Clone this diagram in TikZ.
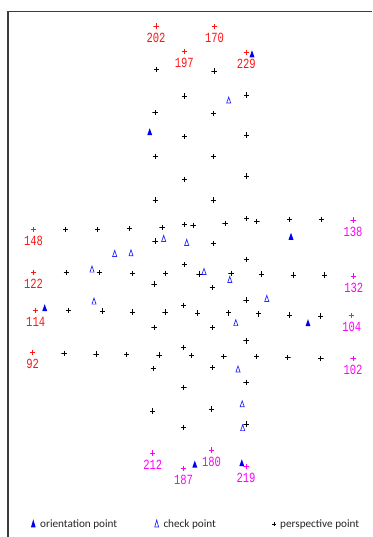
\documentclass[tikz,border=0pt]{standalone}
\usepackage{fontspec}
\setmainfont{Carlito}
\newfontfamily\lblmono{Liberation Mono}
\newcommand\nm[1]{\scalebox{0.75}[1]{#1}}
\definecolor{ptred}{RGB}{255,20,20}
\definecolor{ptmag}{RGB}{255,0,255}
\definecolor{oriblue}{RGB}{0,0,245}
\definecolor{chkblue}{RGB}{40,40,255}
\definecolor{framegray}{RGB}{60,60,60}
\tikzset{
  pp/.style={inner sep=0pt, minimum size=5.5pt,
    path picture={\draw[line width=0.75pt,#1]
      (path picture bounding box.north) -- (path picture bounding box.south)
      (path picture bounding box.west) -- (path picture bounding box.east);}},
  pp/.default=black,
  ori/.style={inner sep=0pt, minimum width=5pt, minimum height=7pt,
    path picture={\fill[oriblue] (path picture bounding box.south west) --
      (path picture bounding box.south east) -- (path picture bounding box.north) -- cycle;}},
  chk/.style={inner sep=0pt, minimum width=5pt, minimum height=7pt,
    path picture={\draw[chkblue,line width=0.7pt,line join=miter]
      ([shift={(0.45pt,0.4pt)}]path picture bounding box.south west) --
      ([shift={(-0.45pt,0.4pt)}]path picture bounding box.south east) --
      ([shift={(0pt,-0.6pt)}]path picture bounding box.north) -- cycle;}},
  lbl/.style={font=\lblmono\fontsize{14}{14}\selectfont, inner sep=0pt,
    text height=9.7pt, text depth=0pt, label distance=3.2pt},
  lr/.style={lbl, text=ptred},
  lm/.style={lbl, text=ptmag},
  legtext/.style={font=\fontsize{11.2}{12}\selectfont, text=black!85, inner sep=0pt, anchor=base west},
}
\begin{document}
\begin{tikzpicture}[x=1pt,y=-1pt]
\useasboundingbox (0,0) rectangle (372,537);
\draw[framegray, line width=1.3pt] (8,537) -- (8,11.5) -- (372,11.5);
% labelled red points
\node[pp=ptred, label={[lr]below:\nm{202}}] (r202) at (156,26) {};
\node[pp=ptred, label={[lr]below:\nm{170}}] (r170) at (214.5,26.5) {};
\node[pp=ptred, label={[lr]below:\nm{197}}] (r197) at (184.3,51.7) {};
\node[pp=ptred, label={[lr]below:\nm{229}}] (r229) at (246.3,52.5) {};
\node[pp=ptred, label={[lr]below:\nm{148}}] (r148) at (33.5,229.5) {};
\node[pp=ptred, label={[lr]below:\nm{122}}] (r122) at (33.5,272.5) {};
\node[pp=ptred, label={[lr]below:\nm{114}}] (r114) at (35.7,310.7) {};
\node[pp=ptred, label={[lr]below:\nm{92}}] (r92) at (32.7,352.7) {};
% labelled magenta points
\node[pp=ptmag, label={[lm]below:\nm{138}}] (m138) at (353,220) {};
\node[pp=ptmag, label={[lm]below:\nm{132}}] (m132) at (353.7,276) {};
\node[pp=ptmag, label={[lm]below:\nm{104}}] (m104) at (351.7,315.7) {};
\node[pp=ptmag, label={[lm]below:\nm{102}}] (m102) at (353,358.5) {};
\node[pp=ptmag, label={[lm]below:\nm{212}}] (m212) at (152.7,453) {};
\node[pp=ptmag, label={[lm]below:\nm{180}}] (m180) at (211.5,450.2) {};
\node[pp=ptmag, label={[lm]below:\nm{187}}] (m187) at (183.5,468.7) {};
\node[pp=ptmag, label={[lm]below:\nm{219}}] (m219) at (246,466.5) {};
% orientation points
\node[ori] (o1) at (252,53.8) {};
\node[ori] (o2) at (149.7,131.7) {};
\node[ori] (o3) at (291,236.3) {};
\node[ori] (o4) at (44.7,307.7) {};
\node[ori] (o5) at (308,322.7) {};
\node[ori] (o6) at (194.8,464) {};
\node[ori] (o7) at (241.8,462.7) {};
% check points
\node[chk] (c1) at (228.7,100) {};
\node[chk] (c2) at (163.7,238.3) {};
\node[chk] (c3) at (186.7,242.3) {};
\node[chk] (c4) at (114.7,253.3) {};
\node[chk] (c5) at (131,252.7) {};
\node[chk] (c6) at (92,269) {};
\node[chk] (c7) at (204,271.3) {};
\node[chk] (c8) at (229.8,279.3) {};
\node[chk] (c9) at (94,301) {};
\node[chk] (c10) at (266.8,298.3) {};
\node[chk] (c11) at (235.8,322.5) {};
\node[chk] (c12) at (238,368.8) {};
\node[chk] (c13) at (242.2,403.7) {};
\node[chk] (c14) at (242.7,427.5) {};
% perspective points
\foreach \x/\y [count=\i] in {
 156.3/69.3, 214/71, 184.3/96, 246.7/95, 155/112.3, 213.3/113.7, 184.3/136.7, 246.7/135,
 155.3/156.7, 213.3/156.7, 184.3/179.3, 246.7/176, 155.3/200, 213.3/200,
 246.7/218.3, 256.8/221.3, 289.5/219.3, 321.3/219.3,
 65.7/229.3, 97.3/229.3, 129.3/228.7, 162/227.7, 184.3/224.5, 193.2/225.4, 225/223.7,
 155/241, 213.3/243.3, 246.3/259.3,
 66.3/272.3, 99.3/272.7, 132.7/273.3, 165.7/273.3, 184.3/264.7, 199/274, 231/273.3,
 261.5/274, 293.3/275.2, 324.3/275.2,
 154/284, 212.3/287.3, 246/300, 183.6/305.3,
 68.7/310.3, 102.3/311, 132.7/312, 165/312, 197.7/313, 228.3/312.8, 258.5/313.8,
 289.5/315, 320.7/316,
 154/327.7, 212.5/327.7, 246/340.8, 183.6/347.3, 191.7/355.7,
 64/353.3, 96/354, 126.7/354.3, 159/355, 223.8/356.7, 256.7/356.7, 287.8/357.7, 320.8/358.7,
 153.3/368.3, 212.5/367.5, 246/382.3, 183.8/387.3,
 152.7/411.2, 211.6/409.2, 246/424, 183.7/427.3}
 \node[pp] (p\i) at (\x,\y) {};
% legend
\node[ori, minimum height=8pt, minimum width=4.7pt] (legori) at (33.3,523.3) {};
\node[legtext] (legorit) at (40,527) {orientation point};
\node[chk, minimum height=8pt, minimum width=4.7pt] (legchk) at (156.7,523.3) {};
\node[legtext] (legchkt) at (163.3,527) {check point};
\node[pp, minimum size=4.2pt] (legpp) at (274.3,524.2) {};
\node[legtext] (legppt) at (280,527) {perspective point};
\end{tikzpicture}
\end{document}
